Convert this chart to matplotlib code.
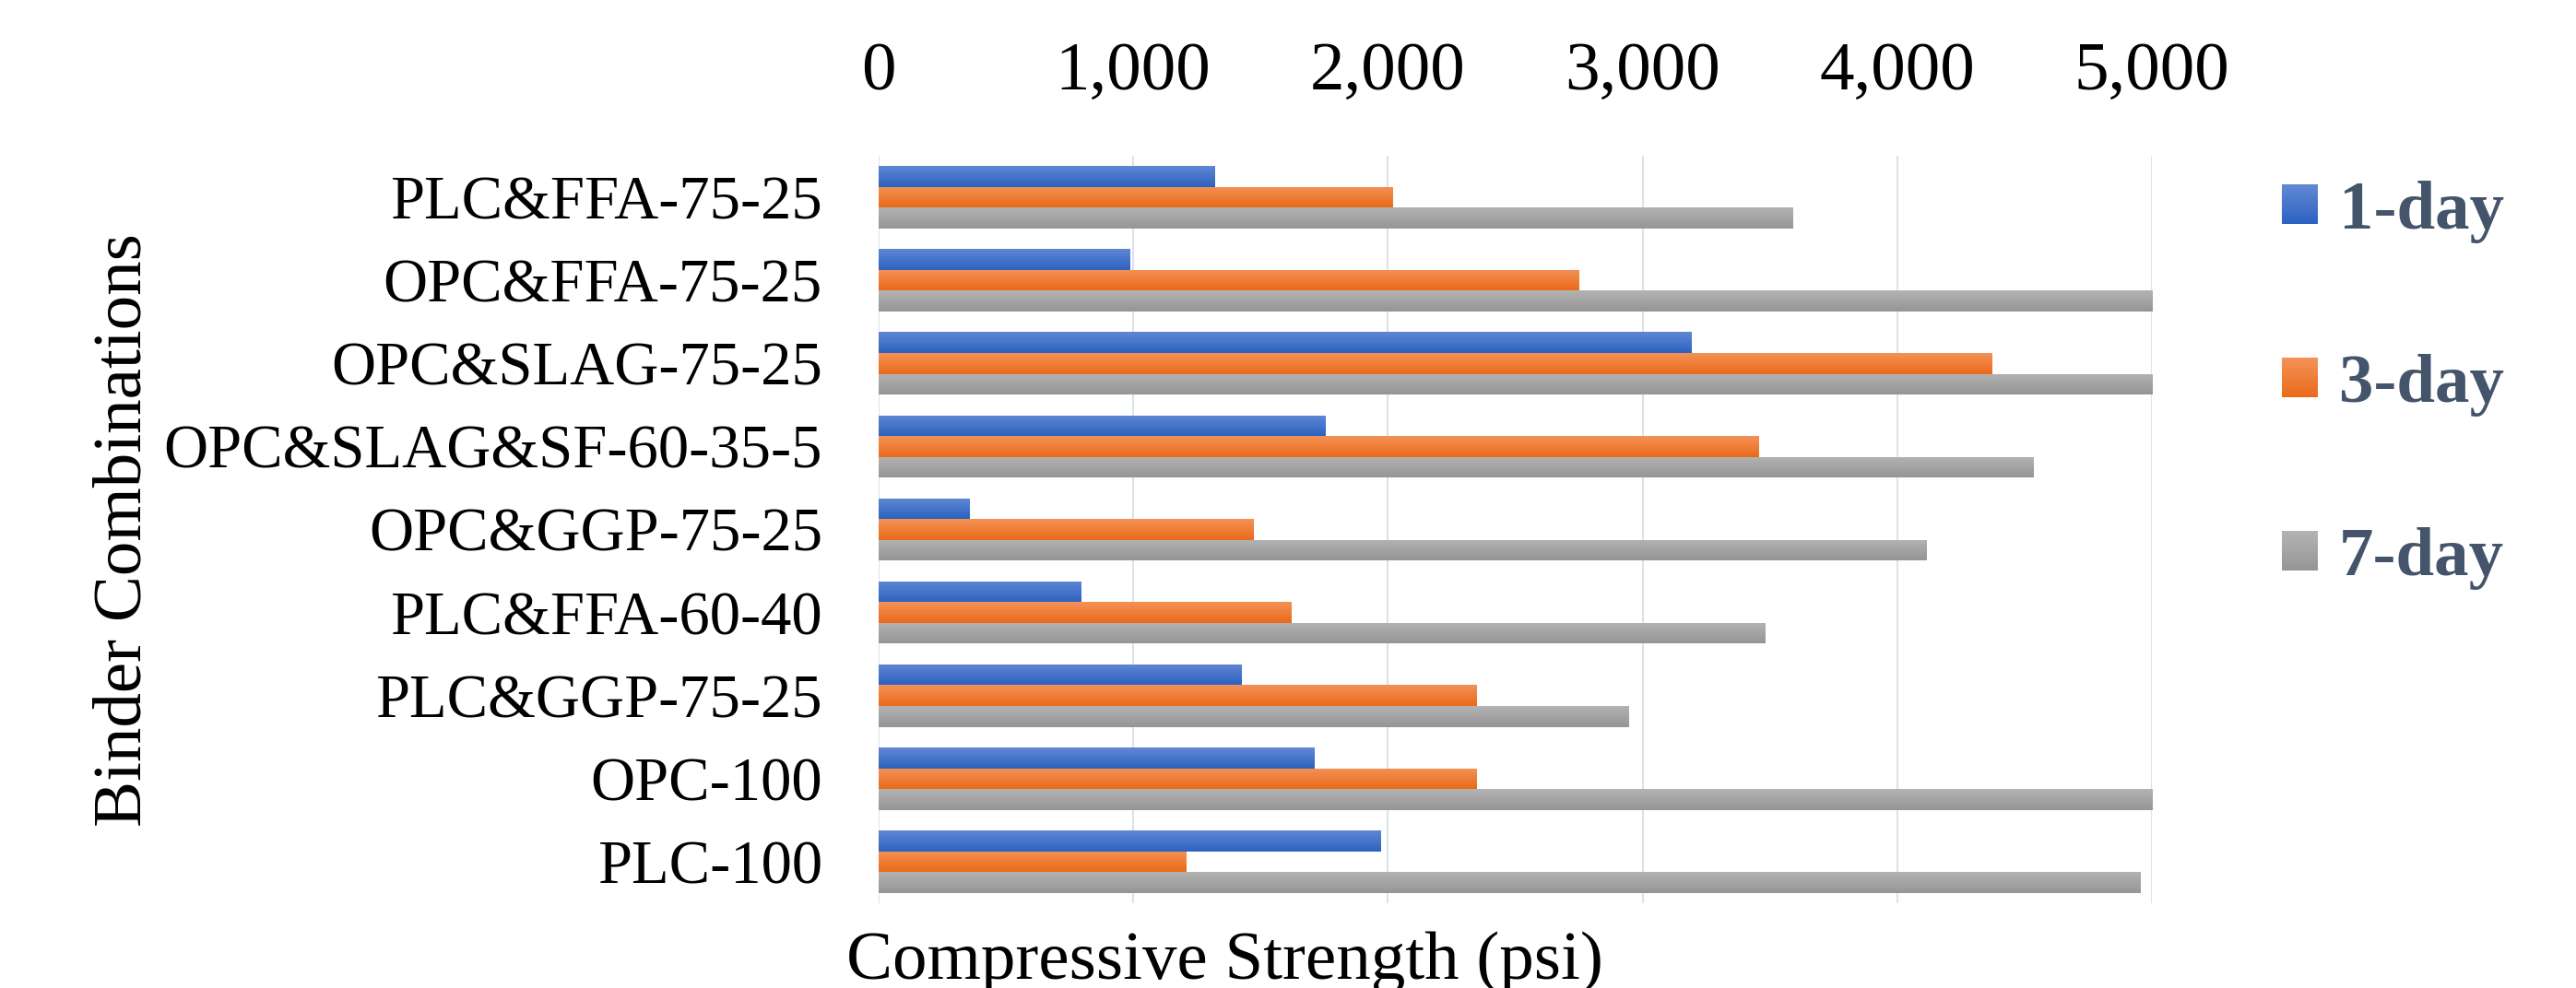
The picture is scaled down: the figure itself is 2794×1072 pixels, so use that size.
import numpy as np
import matplotlib
matplotlib.use("Agg")
import matplotlib.pyplot as plt
from matplotlib.colors import LinearSegmentedColormap, to_rgb
from matplotlib.patches import Rectangle
from matplotlib.legend_handler import HandlerBase

plt.rcParams['font.family'] = ['Liberation Serif', 'DejaVu Serif']

# binder mixes, listed top to bottom as they appear on the chart
binders = ['PLC&FFA-75-25', 'OPC&FFA-75-25', 'OPC&SLAG-75-25',
           'OPC&SLAG&SF-60-35-5', 'OPC&GGP-75-25', 'PLC&FFA-60-40',
           'PLC&GGP-75-25', 'OPC-100', 'PLC-100']

# compressive strength in psi (values at/above 5000 run off the axis)
day1 = [1320, 985, 3190, 1755, 355, 795, 1425, 1710, 1970]
day3 = [2020, 2750, 4370, 3454, 1470, 1620, 2348, 2348, 1207]
day7 = [3590, 5000, 5000, 4533, 4115, 3480, 2945, 5000, 4956]

ages = ['1-day', '3-day', '7-day']
x_ticks = [0, 1000, 2000, 3000, 4000, 5000]

# (lighter top, darker bottom) for the shaded bars
shades = [('#6087d4', '#2d62c0'),
          ('#f39257', '#ea6a1a'),
          ('#b3b3b3', '#959595')]


class GradBox:
    def __init__(self, top, bottom):
        self.top = top
        self.bottom = bottom


class GradBoxHandler(HandlerBase):
    # legend key drawn as a stack of thin stripes, light on top
    def create_artists(self, legend, orig_handle, xdescent, ydescent,
                       width, height, fontsize, trans):
        c0 = np.array(to_rgb(orig_handle.bottom))
        c1 = np.array(to_rgb(orig_handle.top))
        steps = 16
        out = []
        for i in range(steps):
            f = i / (steps - 1)
            r = Rectangle((-xdescent, -ydescent + i * height / steps), width,
                          height / steps * 1.05, facecolor=c0 + (c1 - c0) * f,
                          edgecolor='none', transform=trans)
            out.append(r)
        return out


fig = plt.figure(figsize=(27.94, 10.72), dpi=100)
ax = fig.add_axes([0.3411, 0.0858, 0.8354 - 0.3411, 0.8424 - 0.0858])

n = len(binders)
pos = np.arange(n)[::-1]
h = 0.25
grad = np.linspace(0, 1, 64).reshape(-1, 1)

for k, (vals, (c_top, c_bot)) in enumerate(zip([day1, day3, day7], shades)):
    cmap = LinearSegmentedColormap.from_list('shade%d' % k, [c_top, c_bot])
    ys = pos + h - k * h
    bars = ax.barh(ys, vals, height=h, color=c_bot, linewidth=0, zorder=2)
    for b in bars:
        x0, y0 = b.get_x(), b.get_y()
        im = ax.imshow(grad, extent=(x0, x0 + b.get_width(), y0, y0 + b.get_height()),
                       origin='upper', aspect='auto', cmap=cmap, vmin=0, vmax=1,
                       interpolation='bilinear', zorder=3)
        im.set_clip_path(b)

ax.set_xlim(0, 5000)
ax.set_ylim(-0.5, n - 0.5)
ax.set_yticks(pos)
ax.set_yticklabels(binders, fontsize=48)
ax.set_xticks(x_ticks)
ax.set_xticklabels(['{:,}'.format(t) for t in x_ticks], fontsize=54)
ax.xaxis.tick_top()
ax.tick_params(axis='x', length=0, pad=40)
ax.tick_params(axis='y', length=0, pad=44)
ax.xaxis.grid(True, color='#dde2e9', linewidth=1.5, zorder=0)
ax.set_axisbelow(True)
for s in ax.spines.values():
    s.set_visible(False)

fig.text(0.3286, 0.0093, 'Compressive Strength (psi)', fontsize=54,
         ha='left', va='baseline')
fig.text(0.0483, 0.4636, 'Binder Combinations', fontsize=54,
         rotation=90, ha='center', va='center')

handles = [GradBox(a, b) for a, b in shades]
leg = fig.legend(handles, ages, loc='upper left', bbox_to_anchor=(0.886, 0.817),
                 frameon=False, prop={'size': 54, 'weight': 'bold'},
                 handlelength=0.52, handleheight=0.52, handletextpad=0.3,
                 labelspacing=1.6, borderpad=0, borderaxespad=0,
                 handler_map={GradBox: GradBoxHandler()})
for t in leg.get_texts():
    t.set_color('#44546a')

fig.savefig('out.png', dpi=100)
